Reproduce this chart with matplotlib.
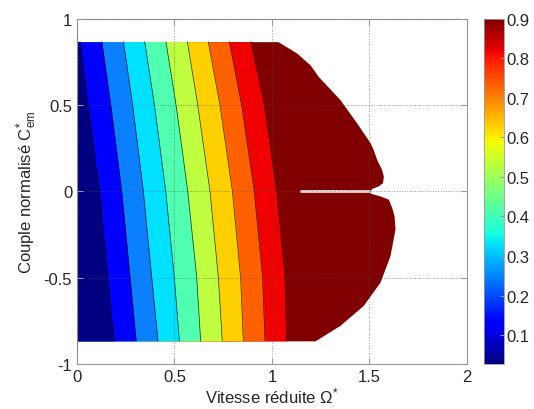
import numpy as np
import matplotlib.pyplot as plt
from matplotlib.colors import Normalize
from matplotlib.cm import ScalarMappable

plt.rcParams['font.family'] = ['Liberation Sans', 'DejaVu Sans']
plt.rcParams['mathtext.fontset'] = 'custom'
plt.rcParams['mathtext.rm'] = 'Liberation Sans'
plt.rcParams['mathtext.it'] = 'Liberation Sans:italic'

# contour levels and where each iso-line crosses a few torque values
levels = [0.1, 0.2, 0.3, 0.4, 0.5, 0.6, 0.7, 0.8, 0.9]
torque_samples = [0.866, 0.5, 0.0, -0.5, -0.866]
iso_speed = [
    [0.015, 0.056, 0.115, 0.157, 0.190],
    [0.127, 0.173, 0.229, 0.272, 0.303],
    [0.238, 0.285, 0.340, 0.383, 0.415],
    [0.347, 0.397, 0.455, 0.499, 0.525],
    [0.456, 0.508, 0.568, 0.614, 0.634],
    [0.566, 0.619, 0.682, 0.725, 0.745],
    [0.673, 0.733, 0.797, 0.839, 0.853],
    [0.781, 0.844, 0.909, 0.952, 0.964],
    [0.892, 0.961, 1.024, 1.067, 1.075],
]

# outer limit of the operating zone (max speed for each torque)
env_torque = [0.866, 0.800, 0.732, 0.665, 0.530, 0.396, 0.281, 0.241, 0.184,
              0.126, 0.088, 0.050, 0.031, 0.016, 0.0, -0.011, -0.027, -0.046,
              -0.094, -0.142, -0.218, -0.373, -0.526, -0.661, -0.776, -0.866]
env_speed = [1.031, 1.127, 1.195, 1.237, 1.349, 1.434, 1.503, 1.519, 1.537,
             1.562, 1.571, 1.567, 1.545, 1.511, 1.503, 1.503, 1.554, 1.597,
             1.614, 1.626, 1.631, 1.605, 1.554, 1.468, 1.349, 1.221]

# no solution along zero torque between these speeds
gap_speed = [1.144, 1.503]

cbar_min, cbar_max = 0.027, 0.9

# band colours (below each level), jet-like as in matlab contourf
band_colors = ['#000080', '#0000ff', '#0a80ff', '#00e0ff', '#50ffb0',
               '#c0ff40', '#ffd000', '#ff6000', '#f00000']
top_color = '#800000'

fig = plt.figure(figsize=(5.34, 4.10), dpi=100)
ax = fig.add_axes([0.1442, 0.1098, 0.7303, 0.8426])

ax.fill_betweenx(env_torque, 0, env_speed, color=top_color, lw=0, zorder=1)
for k in reversed(range(len(levels))):
    ax.fill_betweenx(torque_samples, 0, iso_speed[k], color=band_colors[k],
                     lw=0, zorder=1)
for k in range(len(levels)):
    ax.plot(iso_speed[k], torque_samples, color='k', lw=0.5, alpha=0.8, zorder=2)
ax.plot(gap_speed, [0, 0], color='white', lw=1.8, solid_capstyle='butt', zorder=2)

ax.set_xlim(0, 2)
ax.set_ylim(-1, 1)
ax.set_xticks([0, 0.5, 1, 1.5, 2])
ax.set_xticklabels(['0', '0.5', '1', '1.5', '2'])
ax.set_yticks([-1, -0.5, 0, 0.5, 1])
ax.set_yticklabels(['-1', '-0.5', '0', '0.5', '1'])
ax.tick_params(direction='in', length=4, labelsize=12, colors='#999999',
               labelcolor='#262626', top=True, right=True)
for s in ax.spines.values():
    s.set_color('#999999')
    s.set_linewidth(0.8)
ax.set_axisbelow(False)
ax.grid(True, linestyle=':', color='#555555', lw=0.7, alpha=0.6)

ax.set_xlabel('Vitesse réduite Ω$^{*}$', fontsize=12, color='#262626', labelpad=1)
ax.set_ylabel(r'Couple normalisé C$^{*}_{\mathrm{em}}$', fontsize=12,
              color='#262626', labelpad=3)

cax = fig.add_axes([0.9064, 0.1098, 0.0375, 0.8426])
sm = ScalarMappable(norm=Normalize(cbar_min, cbar_max), cmap='jet')
cb = fig.colorbar(sm, cax=cax, ticks=levels)
cb.ax.set_yticklabels([f'{v:g}' for v in levels])
cb.ax.tick_params(direction='in', length=3, pad=2, labelsize=12,
                  colors='#999999', labelcolor='#262626')
cb.outline.set_edgecolor('#999999')
cb.outline.set_linewidth(0.6)

fig.savefig('out.png', dpi=100)
